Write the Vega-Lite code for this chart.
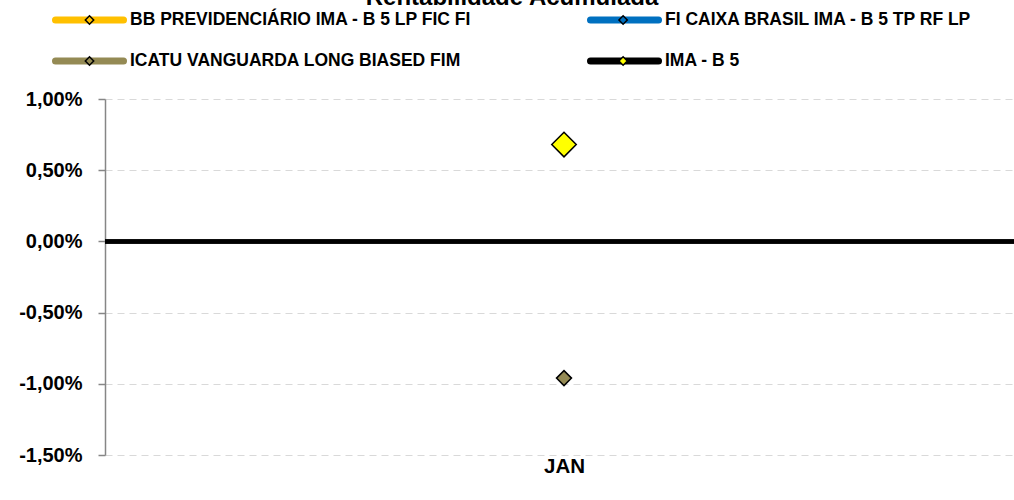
{
  "$schema": "https://vega.github.io/schema/vega-lite/v6.json",
  "width": 918,
  "height": 356,
  "autosize": "none",
  "padding": {"left": 105, "top": 99, "right": 0, "bottom": 45},
  "background": "white",
  "title": {"text": "Rentabilidade Acumulada", "fontSize": 24, "font": "Liberation Sans", "fontWeight": "bold", "color": "black", "anchor": "middle", "dx": -52, "offset": 0},
  "config": {"view": {"stroke": null}, "font": "Liberation Sans"},
  "data": {"values": [
    {"series": "BB PREVIDENCIÁRIO IMA - B 5 LP FIC FI", "month": "JAN", "value": 0.0067},
    {"series": "FI CAIXA BRASIL IMA - B 5 TP RF LP", "month": "JAN", "value": 0.0067},
    {"series": "ICATU VANGUARDA LONG BIASED FIM", "month": "JAN", "value": -0.0096},
    {"series": "IMA - B 5", "month": "JAN", "value": 0.0068}
  ]},
  "layer": [
    {
      "mark": {"type": "line"},
      "encoding": {
        "x": {"field": "month", "type": "nominal", "scale": {"type": "point", "padding": 0.5},
          "axis": {"title": null, "domain": false, "ticks": false, "grid": false, "labelAngle": 0, "labelFont": "Liberation Sans", "labelFontSize": 20.5, "labelFontWeight": "bold", "labelColor": "black", "labelPadding": 1}},
        "y": {"field": "value", "type": "quantitative", "scale": {"domain": [-0.015, 0.01], "nice": false, "zero": false},
          "axis": {"title": null, "values": [-0.015, -0.01, -0.005, 0, 0.005, 0.01], "labelExpr": "(datum.value < 0 ? '-' : '') + replace(format(abs(datum.value), '.2%'), '.', ',')",
            "grid": true, "gridDash": [7, 5], "gridColor": "#d9d9d9", "gridWidth": 1.2, "domainColor": "#868686", "domainWidth": 1.5, "tickColor": "#868686", "tickWidth": 1.5, "tickSize": 7,
            "labelFont": "Liberation Sans", "labelFontSize": 20, "labelFontWeight": "bold", "labelColor": "black", "labelPadding": 16}},
        "stroke": {"field": "series", "type": "nominal",
          "scale": {"domain": ["BB PREVIDENCIÁRIO IMA - B 5 LP FIC FI", "FI CAIXA BRASIL IMA - B 5 TP RF LP", "ICATU VANGUARDA LONG BIASED FIM", "IMA - B 5"], "range": ["#ffc000", "#0070c0", "#948a54", "#000000"]},
          "legend": {"orient": "none", "legendX": -53, "legendY": -89, "columns": 2, "direction": "horizontal", "title": null, "symbolType": "stroke", "symbolSize": 4624, "symbolStrokeWidth": 7,
            "labelFont": "Liberation Sans", "labelFontSize": 17.5, "labelFontWeight": "bold", "labelColor": "black", "labelOffset": 3, "labelLimit": 600,
            "columnPadding": 115, "rowPadding": 21, "clipHeight": 20,
            "encode": {"symbols": {"update": {"strokeCap": {"value": "round"}}}}}}
      }
    },
    {
      "mark": {"type": "rule", "strokeWidth": 4, "color": "black"},
      "encoding": {"y": {"datum": 0}}
    },
    {
      "mark": {"type": "point", "shape": "diamond", "filled": true, "stroke": "black", "strokeWidth": 1.5, "opacity": 1},
      "encoding": {
        "x": {"field": "month", "type": "nominal"},
        "y": {"field": "value", "type": "quantitative"},
        "fill": {"field": "series", "type": "nominal",
          "scale": {"range": ["#ffc000", "#0070c0", "#948a54", "#ffff00"]},
          "legend": {"orient": "none", "legendX": -53, "legendY": -89, "columns": 2, "direction": "horizontal", "title": null, "symbolType": "diamond", "symbolSize": 70, "symbolStrokeWidth": 1.5, "symbolStrokeColor": "black", "symbolOpacity": 1,
            "symbolOffset": 28.75, "labelFont": "Liberation Sans", "labelFontSize": 17.5, "labelFontWeight": "bold", "labelColor": "black", "labelOpacity": 0, "labelOffset": 60.5, "labelLimit": 600,
            "columnPadding": 84.6, "rowPadding": 21, "clipHeight": 20}},
        "size": {"condition": {"test": "datum.series === 'IMA - B 5'", "value": 600}, "value": 225}
      }
    }
  ]
}
